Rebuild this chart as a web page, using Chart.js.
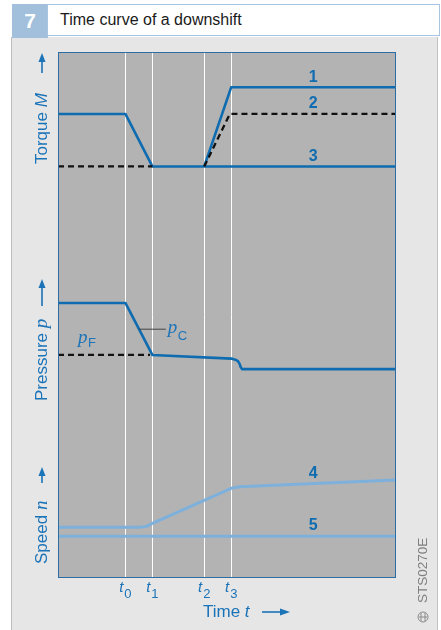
<!DOCTYPE html>
<html><head><meta charset="utf-8">
<script src="https://cdn.jsdelivr.net/npm/chart.js@4"></script>
<style>
html,body{margin:0;padding:0;background:#fff;width:441px;height:630px;overflow:hidden;font-family:"Liberation Sans",Arial,sans-serif;}
#panel{position:absolute;left:11px;top:37px;width:427px;height:593px;background:#e6e6e6;border-left:1.5px solid #bdbdbd;border-right:1.5px solid #c2c2c2;box-sizing:border-box;}
#num{position:absolute;left:12px;top:4px;width:36px;height:34px;background:#a2bfdc;color:#fff;font-weight:bold;font-size:21px;display:flex;align-items:center;justify-content:center;}
#title{position:absolute;left:47px;top:4px;width:393px;height:32px;background:#fff;border:1.5px solid #a9c4e1;box-sizing:border-box;font-size:16px;color:#1a1a1a;padding-left:12px;line-height:29px;}
#wrap{position:absolute;left:0;top:0;width:441px;height:630px;}
</style></head>
<body>
<div id="panel"></div>
<div id="num">7</div>
<div id="title">Time curve of a downshift</div>
<div id="wrap"><canvas id="c" width="441" height="630"></canvas></div>
<script>
// ---- data (time in % of the plotted span, values in % of the plot height) ----
const tickTimes = [20, 28, 43.4, 51.4];
const tickSubs = ['0', '1', '2', '3'];

const torqueBaseX = [0, 20, 28, 100];          // solid, continues as curve 3
const torqueBaseY = [88.2, 88.2, 78.2, 78.2];
const torque1X = [43.4, 51.4, 100];            // curve 1
const torque1Y = [78.2, 93.3, 93.3];
const torqueDashAX = [0, 28];                  // dashed before t1
const torqueDashAY = [78.2, 78.2];
const torque2X = [43.4, 51, 100];              // curve 2 (dashed)
const torque2Y = [78.2, 88.2, 88.2];

const pressureCX = [0, 20, 28, 51.4, 52.6, 53.4, 53.9, 54.2, 54.6, 100];
const pressureCY = [52.2, 52.2, 42.3, 41.6, 41.4, 41.1, 40.6, 40.0, 39.6, 39.6];
const pressureFX = [0, 27.3];
const pressureFY = [42.3, 42.3];

const speed4X = [0, 24.3, 26.1, 28, 51.4, 54, 100];
const speed4Y = [9.47, 9.47, 9.6, 10.2, 16.9, 17.2, 18.5];
const speed5X = [0, 100];
const speed5Y = [7.75, 7.75];

const curveLabels = ['1', '2', '3', '4', '5'];
const curveLabelX = [75.7, 75.7, 75.7, 75.7, 75.7];
const curveLabelY = [95.2, 90.1, 80.0, 19.75, 9.85];

// ---- helpers ----
const pts = (xs, ys) => xs.map((x, i) => ({x, y: ys[i]}));
const BLUE = '#0f6cb0', LBLUE = '#7eb0dc', TXT = '#1b73b8';
const SANS = '"Liberation Sans", Arial, sans-serif';
const SERIF = '"Liberation Serif", "Times New Roman", serif';
Chart.defaults.font.family = SANS;

function line(data, color, width, dash) {
  return {data, borderColor: color, borderWidth: width, borderDash: dash || [], showLine: true,
    pointRadius: 0, pointHoverRadius: 0, fill: false, tension: 0, borderJoinStyle: 'round', borderCapStyle: 'butt'};
}

function arrowUp(ctx, x, tip, base) {
  ctx.beginPath(); ctx.moveTo(x, base); ctx.lineTo(x, tip + 7); ctx.lineWidth = 1.6; ctx.strokeStyle = TXT; ctx.stroke();
  ctx.beginPath(); ctx.moveTo(x, tip); ctx.lineTo(x - 3.5, tip + 9); ctx.lineTo(x + 3.5, tip + 9); ctx.closePath(); ctx.fillStyle = TXT; ctx.fill();
}
function arrowRight(ctx, y, base, tip) {
  ctx.beginPath(); ctx.moveTo(base, y); ctx.lineTo(tip - 7, y); ctx.lineWidth = 1.6; ctx.strokeStyle = TXT; ctx.stroke();
  ctx.beginPath(); ctx.moveTo(tip, y); ctx.lineTo(tip - 10, y - 3.5); ctx.lineTo(tip - 10, y + 3.5); ctx.closePath(); ctx.fillStyle = TXT; ctx.fill();
}
function vLabel(ctx, x, yBottom, word, sym, symFont) {
  ctx.save();
  ctx.translate(x, yBottom); ctx.rotate(-Math.PI / 2);
  ctx.fillStyle = TXT; ctx.textBaseline = 'middle'; ctx.textAlign = 'left';
  ctx.font = '17px ' + SANS;
  ctx.fillText(word, 0, 0);
  const w = ctx.measureText(word).width;
  ctx.font = symFont;
  ctx.fillText(sym, w, 0);
  ctx.restore();
}

const deco = {
  id: 'deco',
  beforeDraw(chart) {
    const {ctx, chartArea: a} = chart;
    ctx.save(); ctx.fillStyle = '#b3b3b3';
    ctx.fillRect(a.left, a.top, a.right - a.left, a.bottom - a.top);
    ctx.restore();
  },
  afterDraw(chart) {
    const {ctx, chartArea: a, scales: {x, y}} = chart;
    ctx.save();
    // plot frame
    ctx.strokeStyle = '#2c6da4'; ctx.lineWidth = 1;
    ctx.strokeRect(Math.round(a.left) + 0.5, Math.round(a.top) + 0.5, Math.round(a.right - a.left), Math.round(a.bottom - a.top));
    // curve numbers
    ctx.fillStyle = BLUE; ctx.font = 'bold 16px ' + SANS; ctx.textAlign = 'center'; ctx.textBaseline = 'middle';
    curveLabels.forEach((t, i) => ctx.fillText(t, x.getPixelForValue(curveLabelX[i]), y.getPixelForValue(curveLabelY[i])));
    // pC leader + label
    const ly = y.getPixelForValue(47.2);
    ctx.beginPath(); ctx.moveTo(x.getPixelForValue(24), ly); ctx.lineTo(x.getPixelForValue(32), ly);
    ctx.strokeStyle = '#444'; ctx.lineWidth = 1; ctx.stroke();
    ctx.textAlign = 'left';
    let px = x.getPixelForValue(32.6), py = y.getPixelForValue(47.4);
    ctx.fillStyle = TXT; ctx.font = 'italic 19px ' + SERIF; ctx.fillText('p', px, py);
    ctx.font = '13px ' + SANS; ctx.fillText('C', px + 10, py + 8);
    px = x.getPixelForValue(5.9); py = y.getPixelForValue(45.5);
    ctx.font = 'italic 19px ' + SERIF; ctx.fillText('p', px, py);
    ctx.font = '13px ' + SANS; ctx.fillText('F', px + 10, py + 5);
    // time tick labels
    tickTimes.forEach((v, i) => {
      const cx = x.getPixelForValue(v);
      ctx.font = 'italic 15px ' + SANS; const wt = ctx.measureText('t').width;
      ctx.font = '13px ' + SANS; const ws = ctx.measureText(tickSubs[i]).width;
      const x0 = cx - (wt + ws + 1) / 2;
      ctx.font = 'italic 15px ' + SANS; ctx.fillText('t', x0, a.bottom + 11);
      ctx.font = '13px ' + SANS; ctx.fillText(tickSubs[i], x0 + wt + 1, a.bottom + 17);
    });
    // time axis title
    ctx.font = '17px ' + SANS; ctx.fillText('Time ', 203, 612);
    const tw = ctx.measureText('Time ').width;
    ctx.font = 'italic 17px ' + SANS; ctx.fillText('t', 203 + tw, 612);
    arrowRight(ctx, 612, 262, 290);
    // vertical axis titles
    vLabel(ctx, 42, 164, 'Torque ', 'M', 'italic 17px ' + SANS);
    arrowUp(ctx, 42, 53, 73);
    vLabel(ctx, 42, 401, 'Pressure ', 'p', 'italic 19px ' + SERIF);
    arrowUp(ctx, 42, 279, 306);
    vLabel(ctx, 42, 564, 'Speed ', 'n', 'italic 19px ' + SERIF);
    arrowUp(ctx, 42, 467, 483);
    // code + logo
    ctx.save(); ctx.translate(423, 603); ctx.rotate(-Math.PI / 2);
    ctx.fillStyle = '#7f7f7f'; ctx.font = '13.5px ' + SANS; ctx.textBaseline = 'middle'; ctx.textAlign = 'left';
    ctx.fillText('STS0270E', 0, 0); ctx.restore();
    ctx.strokeStyle = '#8a8a8a'; ctx.lineWidth = 1;
    ctx.beginPath(); ctx.arc(423, 617, 5, 0, Math.PI * 2); ctx.stroke();
    ctx.beginPath(); ctx.moveTo(421, 613); ctx.lineTo(421, 621); ctx.moveTo(425, 613); ctx.lineTo(425, 621);
    ctx.moveTo(419, 617); ctx.lineTo(427, 617); ctx.stroke();
    ctx.restore();
  }
};

new Chart(document.getElementById('c'), {
  type: 'scatter',
  data: {datasets: [
    line(pts(torqueDashAX, torqueDashAY), '#111', 2.3, [6, 4]),
    line(pts(torque2X, torque2Y), '#111', 2.3, [6, 4]),
    line(pts(torqueBaseX, torqueBaseY), BLUE, 2.6),
    line(pts(torque1X, torque1Y), BLUE, 2.6),
    line(pts(pressureFX, pressureFY), '#111', 2.3, [6, 4]),
    line(pts(pressureCX, pressureCY), BLUE, 2.6),
    line(pts(speed5X, speed5Y), LBLUE, 3),
    line(pts(speed4X, speed4Y), LBLUE, 3)
  ]},
  options: {
    responsive: false, devicePixelRatio: 1, animation: false,
    layout: {padding: {left: 58, right: 46, top: 52, bottom: 53}},
    plugins: {legend: {display: false}, tooltip: {enabled: false}},
    scales: {
      x: {type: 'linear', min: 0, max: 100, display: true,
        afterBuildTicks: s => { s.ticks = tickTimes.map(v => ({value: v})); },
        grid: {color: '#ffffff', lineWidth: 1, drawTicks: false},
        ticks: {display: false}, border: {display: false}},
      y: {type: 'linear', min: 0, max: 100, display: false}
    }
  },
  plugins: [deco]
});
</script>
</body></html>
